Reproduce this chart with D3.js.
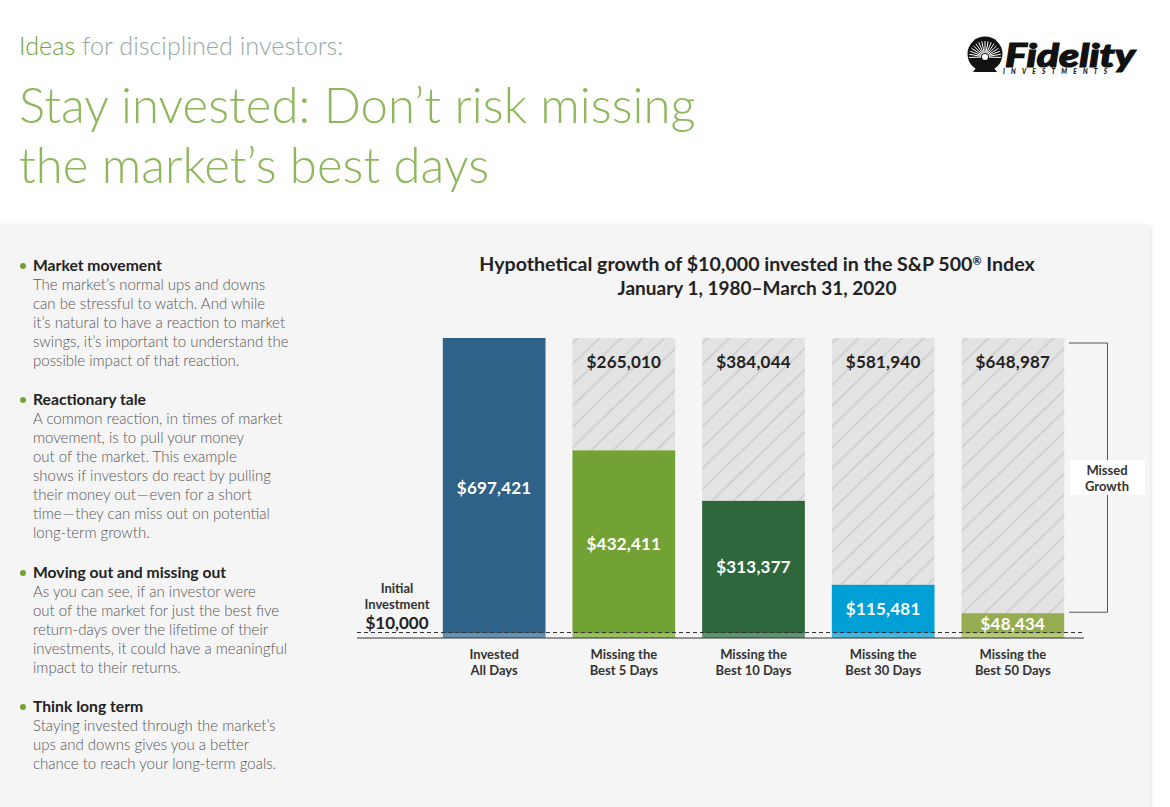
<!DOCTYPE html>
<html>
<head>
<meta charset="utf-8">
<script src="https://cdnjs.cloudflare.com/ajax/libs/d3/7.8.5/d3.min.js"></script>
<style>
html, body { margin: 0; padding: 0; background: #fff; }
svg { display: block; }
text { font-family: Lato, "Open Sans", sans-serif; }
</style>
</head>
<body>
<div id="chart"></div>
<script>
var w = 1170;
var h = 807;

// chart data
var categories = ["Invested|All Days", "Missing the|Best 5 Days", "Missing the|Best 10 Days", "Missing the|Best 30 Days", "Missing the|Best 50 Days"];
var initial = 10000;
var grown = [697421, 432411, 313377, 115481, 48434];
var missed = [0, 265010, 384044, 581940, 648987];
var barColors = ["#2f6289", "#72a233", "#2e673c", "#00a0d6", "#95ad50"];
var baseColors = ["#6690b0", "#95c05c", "#5f9470", "#45b8e2", "#b5cb78"];

var notes = [
  { head: "Market movement", lines: ["The market\u2019s normal ups and downs", "can be stressful to watch. And while", "it\u2019s natural to have a reaction to market", "swings, it\u2019s important to understand the", "possible impact of that reaction."] },
  { head: "Reactionary tale", lines: ["A common reaction, in times of market", "movement, is to pull your money", "out of the market. This example", "shows if investors do react by pulling", "their money out\u200a\u2014\u200aeven for a short", "time\u200a\u2014\u200athey can miss out on potential", "long-term growth."] },
  { head: "Moving out and missing out", lines: ["As you can see, if an investor were", "out of the market for just the best five", "return-days over the lifetime of their", "investments, it could have a meaningful", "impact to their returns."] },
  { head: "Think long term", lines: ["Staying invested through the market\u2019s", "ups and downs gives you a better", "chance to reach your long-term goals."] }
];
var noteTops = [271, 405, 578, 712];

var fmt = d3.format("$,");

var svg = d3.select("#chart").append("svg")
  .attr("width", w)
  .attr("height", h);

// hatch for the missed growth part
var defs = svg.append("defs");
var pat = defs.append("pattern")
  .attr("id", "hatch")
  .attr("patternUnits", "userSpaceOnUse")
  .attr("width", 15)
  .attr("height", 15)
  .attr("patternTransform", "rotate(-44)");
pat.append("rect").attr("width", 15).attr("height", 15).attr("fill", "#e3e3e3");
pat.append("line").attr("x1", 0).attr("x2", 15).attr("y1", 7).attr("y2", 7)
  .attr("stroke", "#c0c0c0").attr("stroke-width", 1);
defs.append("filter").attr("id", "edge").append("feDropShadow")
  .attr("dx", 1).attr("dy", 1).attr("stdDeviation", 2).attr("flood-color", "#000").attr("flood-opacity", 0.12);

// background panel
svg.append("rect").attr("x", -10).attr("y", 225).attr("width", 1160).attr("height", 600)
  .attr("fill", "#f5f5f5").attr("filter", "url(#edge)");

// header
svg.append("text").attr("x", 19).attr("y", 55).attr("font-size", 25.2).attr("font-weight", 300).attr("fill", "#98a8a4")
  .html('<tspan fill="#72a233">Ideas</tspan> for disciplined investors:');
svg.selectAll(".title").data(["Stay invested: Don\u2019t risk missing", "the market\u2019s best days"]).enter().append("text")
  .attr("class", "title")
  .attr("x", 19)
  .attr("y", function(d, i) { return 123 + i * 60; })
  .attr("font-size", 49)
  .attr("font-weight", 300)
  .attr("letter-spacing", 0.05)
  .attr("fill", "#8db75a")
  .text(function(d) { return d; });

// logo
var logo = svg.append("g").attr("transform", "translate(985,54)");
logo.append("circle").attr("r", 17.5).attr("fill", "#111");
d3.range(-8, 9).forEach(function(i) {
  var a = i * 0.2 - Math.PI / 2;
  logo.append("line")
    .attr("x1", 4 * Math.cos(a)).attr("y1", 3 + 4 * Math.sin(a))
    .attr("x2", 16 * Math.cos(a)).attr("y2", 3 + 16 * Math.sin(a))
    .attr("stroke", "#fff").attr("stroke-width", 1);
});
logo.append("path").attr("d", "M-12,18L0,2L12,18Z").attr("fill", "#111");
logo.append("circle").attr("r", 3).attr("cy", 3).attr("fill", "#fff");
logo.append("text").attr("x", 20).attr("y", 13).attr("font-size", 33).attr("font-weight", 900).attr("font-style", "italic")
  .attr("textLength", 130).attr("lengthAdjust", "spacingAndGlyphs")
  .attr("stroke", "#111").attr("stroke-width", 1.2).attr("fill", "#111").text("Fidelity");
logo.append("text").attr("x", 18).attr("y", 20).attr("font-size", 6.5).attr("font-weight", 900).attr("font-style", "italic")
  .attr("textLength", 104).attr("fill", "#111").text("INVESTMENTS");

// left column notes
notes.forEach(function(n, i) {
  var g = svg.append("g").attr("transform", "translate(33," + noteTops[i] + ")");
  g.append("circle").attr("cx", -10).attr("cy", -5).attr("r", 3).attr("fill", "#72a233");
  g.append("text").attr("font-size", 15.7).attr("font-weight", 700).attr("fill", "#222").text(n.head);
  n.lines.forEach(function(l, j) {
    g.append("text").attr("y", 19 + j * 19).attr("font-size", 15).attr("font-weight", 300).attr("fill", "#555").text(l);
  });
});

// chart title
svg.append("text").attr("x", 757).attr("y", 271).attr("text-anchor", "middle")
  .attr("font-size", 19.6).attr("font-weight", 700).attr("fill", "#222")
  .html('Hypothetical growth of $10,000 invested in the S&amp;P 500<tspan font-size="11" dy="-6">\u00ae</tspan><tspan dy="6"> Index</tspan>');
svg.append("text").attr("x", 757).attr("y", 295).attr("text-anchor", "middle")
  .attr("font-size", 19).attr("font-weight", 700).attr("fill", "#222")
  .text("January 1, 1980\u2013March 31, 2020");

// scales
var xScale = d3.scaleBand().domain(categories).range([442.8, 1064.2]).paddingInner(0.208).paddingOuter(0);
var yScale = d3.scaleLinear().domain([0, initial + grown[0]]).range([638, 338]);

var bars = svg.selectAll(".bar").data(categories).enter().append("g")
  .attr("class", "bar")
  .attr("transform", function(d) { return "translate(" + xScale(d) + ",0)"; });

// missed growth on top
bars.append("rect")
  .attr("y", function(d, i) { return yScale(initial + grown[i] + missed[i]); })
  .attr("width", xScale.bandwidth())
  .attr("height", function(d, i) { return yScale(initial + grown[i]) - yScale(initial + grown[i] + missed[i]); })
  .attr("fill", "url(#hatch)");

// actual growth
bars.append("rect")
  .attr("y", function(d, i) { return yScale(initial + grown[i]); })
  .attr("width", xScale.bandwidth())
  .attr("height", function(d, i) { return yScale(initial) - yScale(initial + grown[i]); })
  .attr("fill", function(d, i) { return barColors[i]; });

// initial investment at the bottom
bars.append("rect")
  .attr("y", yScale(initial))
  .attr("width", xScale.bandwidth())
  .attr("height", yScale(0) - yScale(initial))
  .attr("fill", function(d, i) { return baseColors[i]; });

var labelY = [494, 550, 573, 615, 630];
bars.append("text")
  .attr("x", xScale.bandwidth() / 2)
  .attr("y", function(d, i) { return labelY[i]; })
  .attr("text-anchor", "middle")
  .attr("font-size", 17)
  .attr("font-weight", 700)
  .attr("letter-spacing", 0.2)
  .attr("fill", "#fff")
  .text(function(d, i) { return fmt(grown[i]); });

bars.filter(function(d, i) { return missed[i] > 0; }).append("text")
  .attr("x", xScale.bandwidth() / 2)
  .attr("y", 368)
  .attr("text-anchor", "middle")
  .attr("font-size", 17)
  .attr("font-weight", 700)
  .attr("letter-spacing", 0.2)
  .attr("fill", "#222")
  .text(function(d) { return fmt(missed[categories.indexOf(d)]); });

// dashed initial investment line
svg.append("line").attr("x1", 357).attr("x2", 1084).attr("y1", 632.5).attr("y2", 632.5)
  .attr("stroke", "#333").attr("stroke-width", 1).attr("stroke-dasharray", "4,3");

// x axis
var xAxis = svg.append("g")
  .attr("transform", "translate(0," + yScale(0) + ")")
  .call(d3.axisBottom(xScale).tickSize(0).tickFormat(""));
xAxis.select(".domain").remove();
svg.append("line").attr("x1", 357).attr("x2", 1084).attr("y1", yScale(0)).attr("y2", yScale(0))
  .attr("stroke", "#333").attr("stroke-width", 1);
xAxis.selectAll(".tick text").remove();
xAxis.selectAll(".tick").each(function(d) {
  var t = d3.select(this);
  d.split("|").forEach(function(l, j) {
    t.append("text")
      .attr("y", 21 + j * 16)
      .attr("text-anchor", "middle")
      .attr("font-size", 13)
      .attr("font-weight", 700)
      .attr("fill", "#333")
      .text(l);
  });
});

// initial investment label
svg.selectAll(".init").data(["Initial", "Investment"]).enter().append("text")
  .attr("class", "init")
  .attr("x", 397)
  .attr("y", function(d, i) { return 593 + i * 16; })
  .attr("text-anchor", "middle")
  .attr("font-size", 13)
  .attr("font-weight", 700)
  .attr("fill", "#333")
  .text(function(d) { return d; });
svg.append("text").attr("x", 397).attr("y", 629).attr("text-anchor", "middle")
  .attr("font-size", 17).attr("font-weight", 700).attr("fill", "#222").text(fmt(initial));

// missed growth bracket
var brTop = yScale(initial + grown[4] + missed[4]) + 5;
var brBot = yScale(initial + grown[4]) - 1;
svg.append("path")
  .attr("d", "M1069," + brTop + "H1107.5V" + brBot + "H1069")
  .attr("fill", "none").attr("stroke", "#555").attr("stroke-width", 1);
svg.append("rect").attr("x", 1070).attr("y", 460).attr("width", 75).attr("height", 35).attr("fill", "#fff");
svg.selectAll(".mg").data(["Missed", "Growth"]).enter().append("text")
  .attr("class", "mg")
  .attr("x", 1107)
  .attr("y", function(d, i) { return 475 + i * 16; })
  .attr("text-anchor", "middle")
  .attr("font-size", 13)
  .attr("font-weight", 700)
  .attr("fill", "#333")
  .text(function(d) { return d; });
</script>
</body>
</html>
